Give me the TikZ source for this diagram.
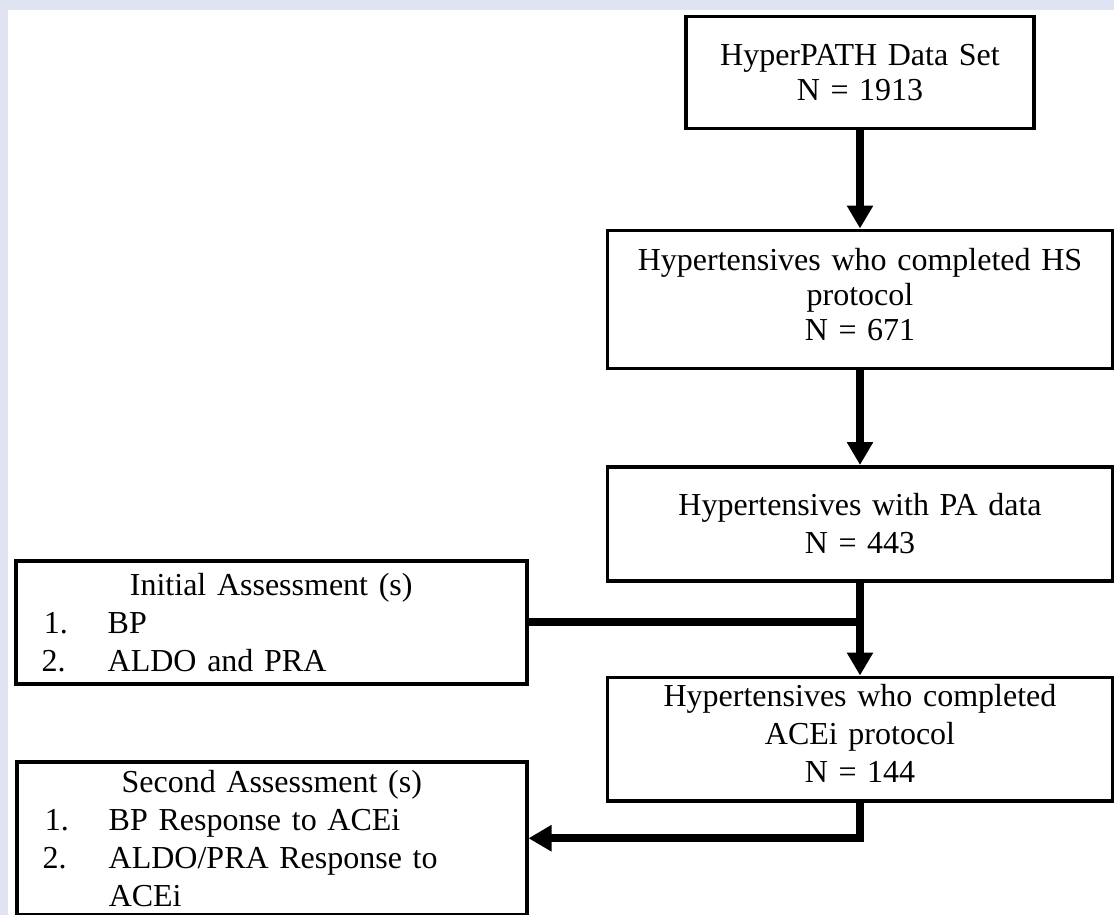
\documentclass[tikz,border=0pt]{standalone}
\usepackage{fontspec}
\setmainfont{Liberation Serif}
\usepackage{tikz}
\usetikzlibrary{positioning, arrows.meta}
\definecolor{pagebg}{RGB}{224,227,242}

\begin{document}
\begin{tikzpicture}[
    x=0.5pt, y=-0.5pt,
    every node/.style={font=\fontsize{16pt}{19pt}\selectfont},
    stage/.style={draw, rectangle, line width=1.75pt, minimum width=252.5pt, text width=240pt, align=center},
    assess/.style={draw, rectangle, line width=1.75pt, anchor=north west, inner xsep=0pt, text width=255.5pt, align=left},
    arrow/.style={-{Triangle[width=12.5pt,length=11.5pt]}, line width=4pt},
    link/.style={line width=4pt}
]
\useasboundingbox (0,0) rectangle (1114,915);
\fill[pagebg] (0,0) rectangle (1114,915);
\fill[white] (8,10) rectangle (1114,915);

\node[stage, anchor=north, minimum width=174pt, text width=160pt, minimum height=56pt,
      font=\fontsize{16pt}{17.5pt}\selectfont] (data) at (860,15) {HyperPATH Data Set\\N = 1913};
\node[stage, below=49pt of data, minimum height=69pt,
      font=\fontsize{16pt}{17.5pt}\selectfont] (hs) {Hypertensives who completed HS\\protocol\\N = 671\rule[-5pt]{0pt}{0pt}};
\node[stage, below=47.5pt of hs, minimum height=57pt] (pa) {Hypertensives with PA data\\N = 443};
\node[stage, below=46.5pt of pa, minimum height=61.5pt] (acei) {Hypertensives who completed\\ACEi protocol\\N = 144\rule[-6pt]{0pt}{0pt}};

\node[assess, minimum height=61.5pt] (initial) at (14,559) {\makebox[255.5pt]{Initial Assessment (s)}\\
    \hspace*{14pt}\makebox[32pt][l]{1.}BP\\
    \hspace*{13pt}\makebox[33pt][l]{2.}ALDO and PRA};
\node[assess, text width=255pt, minimum height=76.5pt] (second) at (15,760) {\makebox[255pt]{Second Assessment (s)}\\
    \hspace*{14pt}\makebox[32pt][l]{1.}BP Response to ACEi\\
    \hspace*{13pt}\makebox[33pt][l]{2.}ALDO/PRA Response to\\
    \hspace*{46pt}ACEi};

\draw[arrow] (data) -- (hs);
\draw[arrow] (hs) -- (pa);
\draw[link] (initial.east) -- (initial.east -| pa.south);
\draw[arrow] (pa) -- (acei);
\draw[arrow] (acei.south) |- (second.east);
\end{tikzpicture}
\end{document}
